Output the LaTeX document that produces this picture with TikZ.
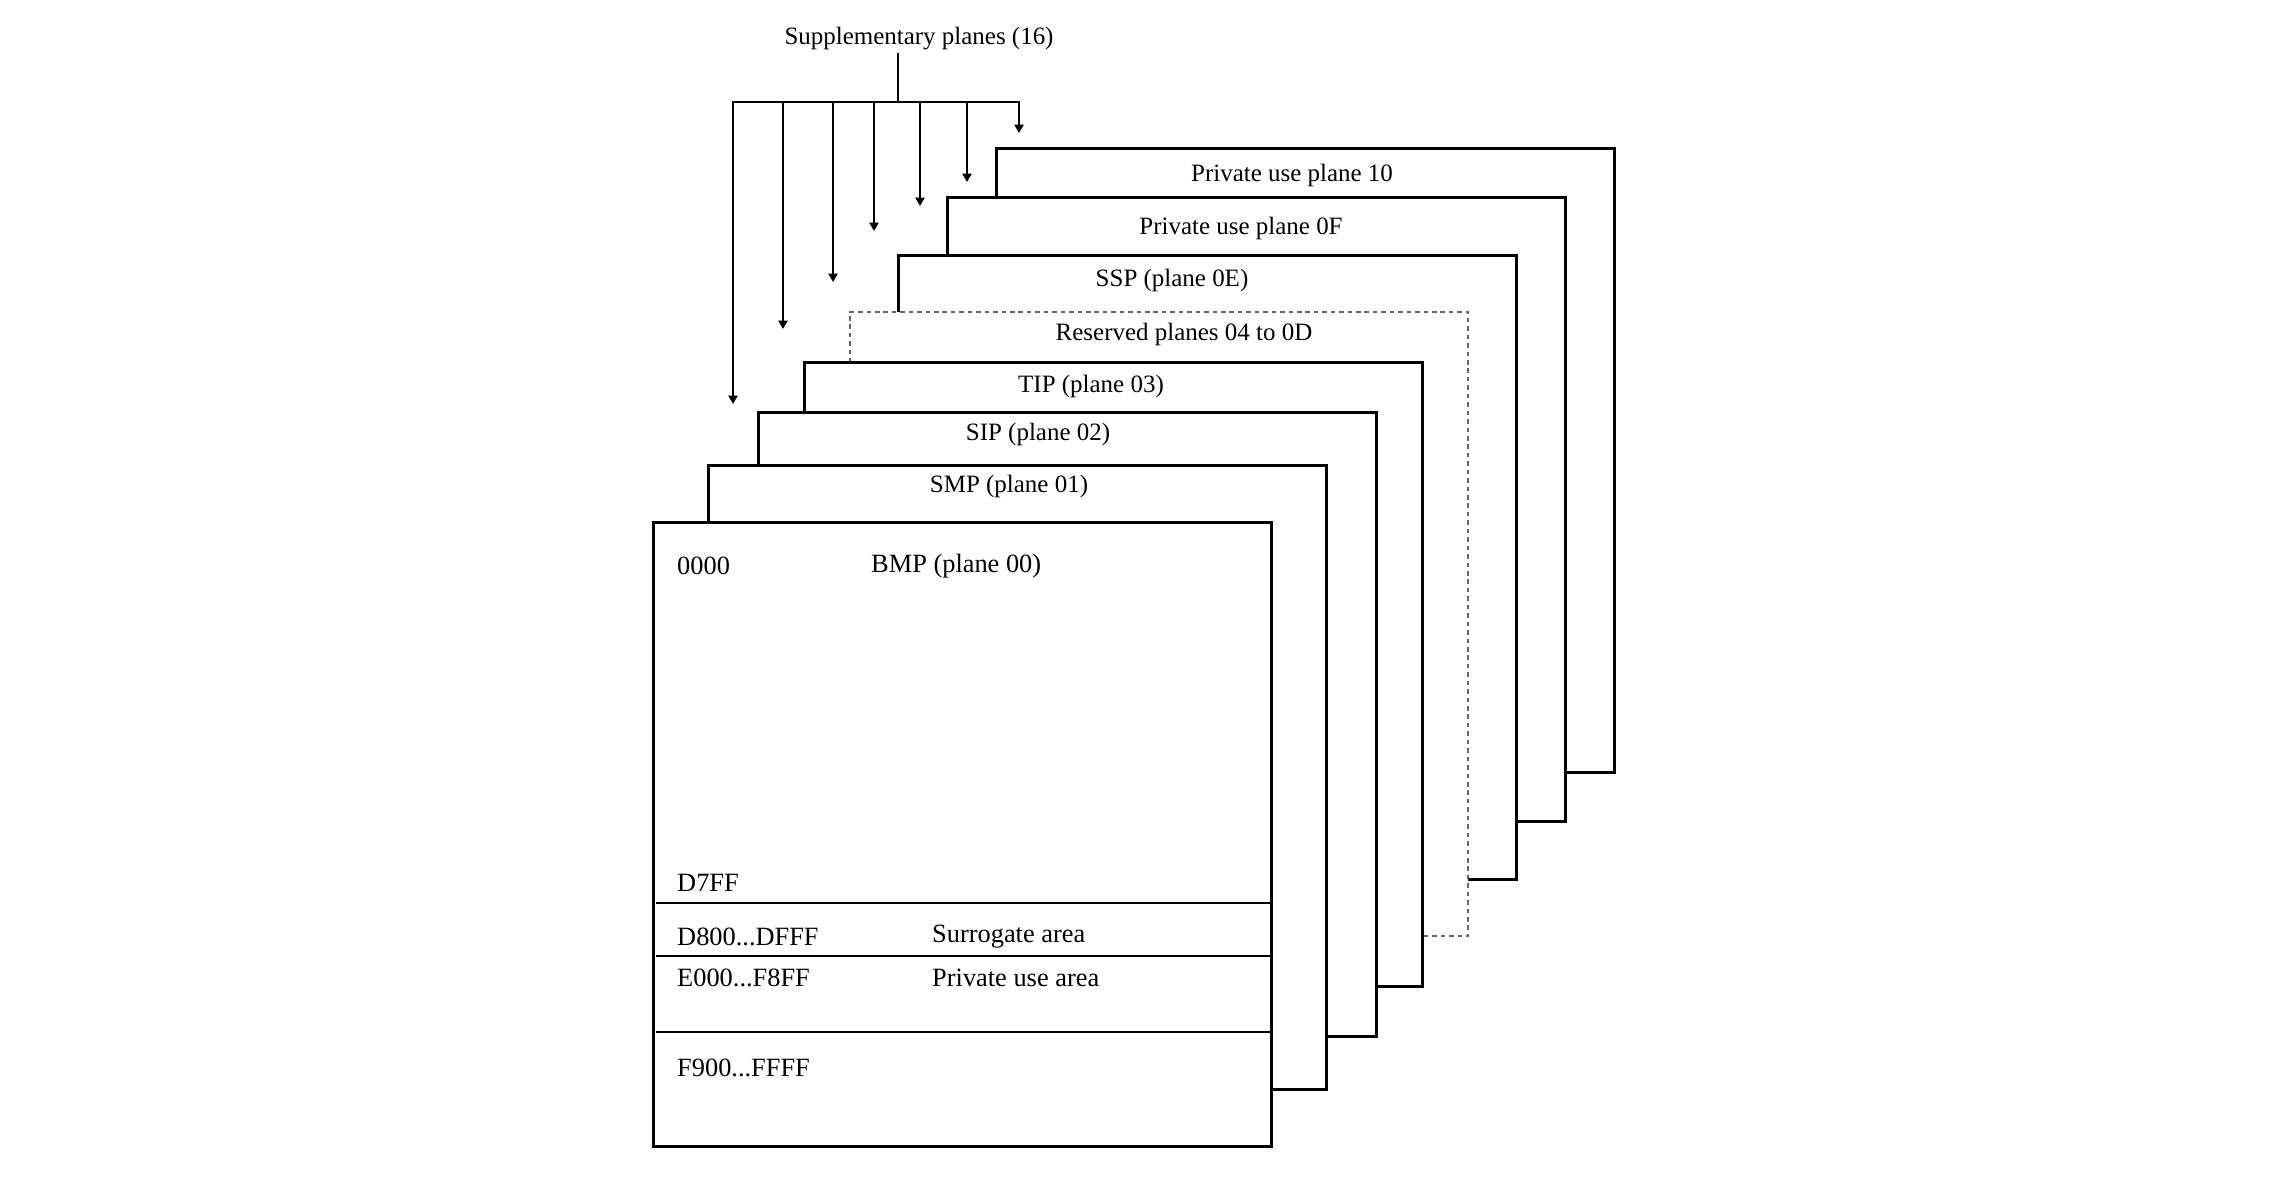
\documentclass[tikz,border=0pt]{standalone}
\usepackage{fontspec}
\setmainfont{Liberation Serif}
\usetikzlibrary{arrows.meta}

\begin{document}
\begin{tikzpicture}[
    x=0.01cm, y=-0.01cm,
    plane box/.style={
        rectangle,
        draw=black,
        thick,
        fill=white,
        inner sep=0pt,
        minimum width=6.18cm,
        minimum height=6.24cm,
        anchor=north west
    },
    reserved box/.style={
        plane box,
        draw=black!60,
        line width=0.5pt,
        dash pattern=on 1.3pt off 1.1pt
    },
    plane label/.style={
        font=\fontsize{7.1}{8.5}\selectfont,
        text=black,
        inner sep=1pt
    },
    range label/.style={
        plane label,
        font=\fontsize{7.5}{9}\selectfont,
        anchor=west
    },
    plane arrow/.style={
        -{Triangle[length=2.4pt,width=2.6pt]},
        thick,
        draw=black
    }
]
    \useasboundingbox (0,0) rectangle (2286,1198);

    % Ebenen von hinten nach vorne
    \foreach \name/\xpos/\ypos in {pua10/995/147,pua0f/946/196,ssp/897/254} {
        \node[plane box] (\name) at (\xpos,\ypos) {};
    }
    \node[reserved box] (reserved) at (849,311) {};
    \foreach \name/\xpos/\ypos in {tip/803/361,sip/757/411,smp/707/464,bmp/652/521} {
        \node[plane box] (\name) at (\xpos,\ypos) {};
    }

    % Beschriftungen der Ebenen
    \node[plane label] (pua10 label) at (1292,176) {Private use plane 10};
    \node[plane label] (pua0f label) at (1241,229) {Private use plane 0F};
    \node[plane label] (ssp label) at (1172,281) {SSP (plane 0E)};
    \node[plane label] (reserved label) at (1184,335) {Reserved planes 04 to 0D};
    \node[plane label] (tip label) at (1091,387) {TIP (plane 03)};
    \node[plane label] (sip label) at (1038,435) {SIP (plane 02)};
    \node[plane label] (smp label) at (1009,487) {SMP (plane 01)};

    % Bereiche der BMP
    \node[range label] (bmp start) at (673,566) {0000};
    \node[range label] (bmp label) at (867,566) {BMP (plane 00)};
    \node[range label] (bmp d7ff) at (673,883) {D7FF};
    \node[range label] (surrogate range) at (673,937) {D800...DFFF};
    \node[range label] (surrogate label) at (928,937) {Surrogate area};
    \node[range label] (private range) at (673,978) {E000...F8FF};
    \node[range label] (private label) at (928,978) {Private use area};
    \node[range label] (compat range) at (673,1068) {F900...FFFF};
    \foreach \ypos in {903,956,1032} {
        \draw[thick] (656,\ypos) -- (bmp.east |- 0,\ypos);
    }

    % Verteiler der Zusatzebenen
    \node[plane label] (supp) at (919,39) {Supplementary planes (16)};
    \coordinate (stem top) at (898,53);
    \coordinate (stem foot) at (898,102);
    \draw[thick] (stem top) -- (stem foot);
    \foreach \i/\xpos/\tip in {1/733/404,2/783/329,3/833/282,4/874/231,5/920/206,6/967/182,7/1019/133} {
        \coordinate (drop\i) at (\xpos,102);
        \coordinate (tip\i) at (\xpos,\tip);
        \draw[plane arrow] (drop\i) -- (tip\i);
    }
    \draw[thick, line cap=rect] (drop1) -- (drop7);
\end{tikzpicture}
\end{document}
